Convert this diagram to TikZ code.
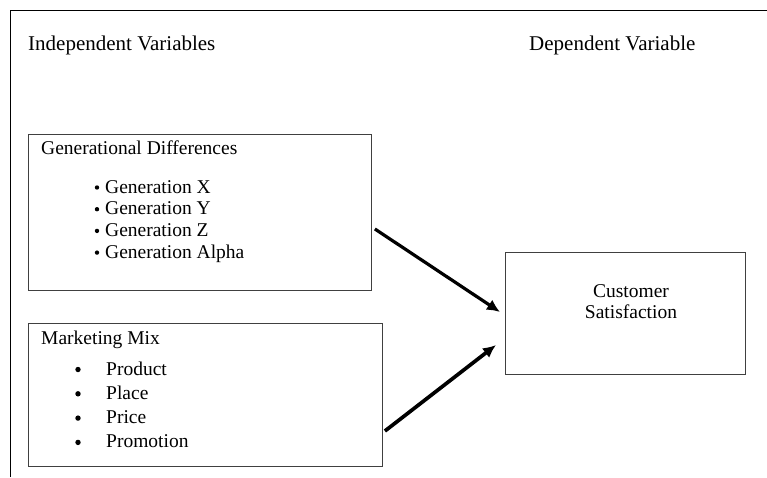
\documentclass[tikz,border=0pt]{standalone}
\usepackage{fontspec}
\setmainfont{Liberation Serif}
\usetikzlibrary{arrows.meta, calc, positioning}

\tikzset{
  box/.style={draw=black!75, line width=0.9pt, anchor=north west, inner sep=0pt},
  lbl/.style={anchor=base west, inner sep=0pt},
  head/.style={lbl, font=\fontsize{21}{25}\selectfont},
  link/.style={line width=3.2pt, -{Latex[length=13pt, width=12pt]}},
}

\begin{document}
\begin{tikzpicture}[x=1pt, y=-1pt, font=\fontsize{19.5}{23}\selectfont]
	\useasboundingbox (0,0) rectangle (767,477);

	% outer frame
	\draw[line width=0.9pt] (10,477) -- (10,10) -- (767,10);

	\node[head] (indep) at (28,50) {Independent Variables};
	\node[head] (dep) at (529,50) {Dependent Variable};

	% boxes
	\node[box, minimum width=343pt, minimum height=156pt] (gen) at (28,134) {};
	\node[box, minimum width=354pt, minimum height=143pt] (mix) at (28,323) {};
	\node[box, minimum width=240pt, minimum height=122pt] (sat) at (505,252) {};

	\node[lbl] (gentitle) at (41,154) {Generational Differences};
	\foreach \t [count=\i] in {Generation X, Generation Y, Generation Z, Generation Alpha} {
		\fill (97,{193+21.7*(\i-1)-5.5}) circle (2.2pt);
		\node[lbl] (gen\i) at (105,{193+21.7*(\i-1)}) {\t};
	}

	\node[lbl] (mixtitle) at (41,344) {Marketing Mix};
	\foreach \t [count=\i] in {Product, Place, Price, Promotion} {
		\fill (78,{375+24.3*(\i-1)-5.5}) circle (2.7pt);
		\node[lbl] (mix\i) at (106,{375+24.3*(\i-1)}) {\t};
	}

	\node[anchor=base, inner sep=0pt] (cust) at (631,297) {Customer};
	\node[anchor=base, inner sep=0pt] (satis) at (631,318) {Satisfaction};

	% arrows
	\coordinate (genout) at ($ (gen.north east)+(3,95) $);
	\coordinate (mixout) at ($ (mix.north east)+(2,108) $);
	\coordinate (satin1) at ($ (sat.north west)+(-5,60) $);
	\coordinate (satin2) at ($ (sat.north west)+(-9,93) $);
	\draw[link] (genout) -- (satin1);
	\draw[link, line width=3.7pt] (mixout) -- (satin2);
\end{tikzpicture}
\end{document}
